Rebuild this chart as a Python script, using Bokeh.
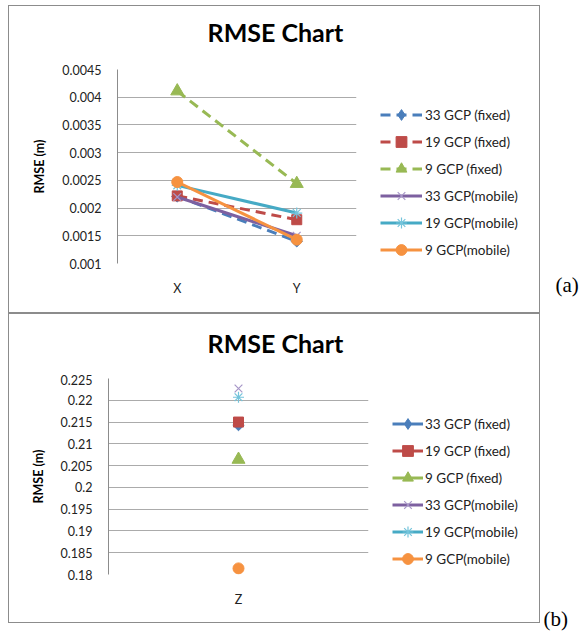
import math
from bokeh.plotting import figure
from bokeh.models import (FactorRange, Range1d, FixedTicker, PrintfTickFormatter,
                          Legend, LegendItem, Label, ColumnDataSource)
from bokeh.layouts import row, column
from bokeh.embed import file_html
from bokeh.resources import INLINE

# ---------------- data ----------------
cats_a = ["X", "Y"]
cats_b = ["Z"]
series_names = ["33 GCP (fixed)", "19 GCP (fixed)", "9 GCP (fixed)",
                "33 GCP(mobile)", "19 GCP(mobile)", "9 GCP(mobile)"]

rmse_a_33_fixed = [0.00221, 0.00140]
rmse_a_19_fixed = [0.00222, 0.00179]
rmse_a_9_fixed = [0.00411, 0.00244]
rmse_a_33_mobile = [0.00220, 0.00150]
rmse_a_19_mobile = [0.00241, 0.00191]
rmse_a_9_mobile = [0.00247, 0.00143]

rmse_b_33_fixed = [0.2143]
rmse_b_19_fixed = [0.2150]
rmse_b_9_fixed = [0.2064]
rmse_b_33_mobile = [0.2227]
rmse_b_19_mobile = [0.2207]
rmse_b_9_mobile = [0.1814]

yticks_a = [0.001, 0.0015, 0.002, 0.0025, 0.003, 0.0035, 0.004, 0.0045]
yticks_b = [0.18, 0.185, 0.19, 0.195, 0.2, 0.205, 0.21, 0.215, 0.22, 0.225]

title_text = "RMSE Chart"
ylabel_text = "RMSE (m)"

# ---------------- styles ----------------
FONT = "Lato"
LINE_COLORS = ["#4A7EBB", "#BE4B48", "#98B954", "#7D60A0", "#46AAC5", "#F69240"]
MARKERS = [
    dict(marker="square", size=8, angle=math.pi / 4, color="#4A7EBB"),
    dict(marker="square", size=10, angle=0.0, color="#BE4B48"),
    dict(marker="triangle", size=13, angle=0.0, color="#98B954"),
    dict(marker="x", size=11, angle=0.0, color="#A898C8"),
    dict(marker="asterisk", size=11, angle=0.0, color="#74C4DB"),
    dict(marker="circle", size=11, angle=0.0, color="#F69240"),
]
LEGEND_MARKERS = ["diamond", "square", "triangle", "x", "asterisk", "circle"]
GRID = "#ababab"
BORDER = {"border": "1px solid #8c8c8c"}


def bare_fig(W, H, **kw):
    opts = dict(min_border=0)
    opts.update(kw)
    f = figure(width=W, height=H, x_range=Range1d(0, 1), y_range=Range1d(0, 1),
               output_backend="svg", toolbar_location=None, title=None,
               x_axis_location=None, y_axis_location=None, **opts)
    f.outline_line_color = None
    f.xgrid.visible = False
    f.ygrid.visible = False
    return f


def text_fig(text, W, H, x, y, font, size, style="normal", align="left"):
    f = bare_fig(W, H)
    f.add_layout(Label(x=x, y=y, x_units="screen", y_units="screen", text=text,
                       text_align=align, text_baseline="middle",
                       text_font=font, text_font_size=size, text_font_style=style,
                       text_color="#000000"))
    return f


def chart_fig(cats, values, yticks, dashed, W, H, bl, br, bt, bb):
    p = figure(width=W, height=H, x_range=FactorRange(*cats),
               y_range=Range1d(yticks[0], yticks[-1]),
               output_backend="svg", toolbar_location=None, title=None,
               min_border_left=bl, min_border_right=br,
               min_border_top=bt, min_border_bottom=bb)
    p.outline_line_color = None

    ticker = FixedTicker(ticks=yticks)
    p.yaxis.ticker = ticker
    p.yaxis.formatter = PrintfTickFormatter(format="%g")
    p.yaxis.major_tick_out = 0
    p.yaxis.major_tick_in = 0
    p.yaxis.minor_tick_out = 0
    p.yaxis.minor_tick_in = 0
    p.yaxis.major_label_standoff = 16
    p.yaxis.axis_line_color = "#8c8c8c"
    p.yaxis.major_label_text_font = FONT
    p.yaxis.major_label_text_font_size = "12.5px"
    p.yaxis.major_label_text_color = "#222222"
    p.yaxis.axis_label = ylabel_text
    p.yaxis.axis_label_standoff = 12
    p.yaxis.axis_label_text_font = FONT
    p.yaxis.axis_label_text_font_style = "bold"
    p.yaxis.axis_label_text_font_size = "12.5px"
    p.yaxis.axis_label_text_color = "#000000"

    p.xaxis.major_tick_out = 0
    p.xaxis.major_tick_in = 0
    p.xaxis.axis_line_color = None
    p.xaxis.major_label_standoff = 17
    p.xaxis.major_label_text_font = FONT
    p.xaxis.major_label_text_font_size = "12.5px"
    p.xaxis.major_label_text_color = "#222222"

    p.xgrid.visible = False
    p.ygrid.ticker = ticker
    p.ygrid.grid_line_color = GRID
    p.ygrid.grid_line_width = 1

    for i, vals in enumerate(values):
        src = ColumnDataSource(dict(x=cats, y=vals))
        dash = "10 6" if (dashed and i < 3) else "solid"
        if len(cats) > 1:
            p.line("x", "y", source=src, line_color=LINE_COLORS[i],
                   line_width=3, line_dash=dash)
        m = MARKERS[i]
        if m["marker"] in ("x", "asterisk"):
            p.scatter("x", "y", source=src, marker=m["marker"], size=m["size"],
                      line_color=m["color"], line_width=1.2)
        else:
            p.scatter("x", "y", source=src, marker=m["marker"], size=m["size"],
                      angle=m["angle"], fill_color=m["color"],
                      line_color=m["color"], line_width=1)
    return p


def legend_fig(values, W, H, dashed, bt, bb, loc, glyph_w, standoff):
    # legend-only figure: the series are plotted here outside the visible range,
    # so only their legend glyphs show
    f = bare_fig(W, H, min_border_top=bt, min_border_bottom=bb)
    f.y_range = Range1d(-2, -1)
    items = []
    for i, (name, vals) in enumerate(zip(series_names, values)):
        src = ColumnDataSource(dict(x=list(range(len(vals))), y=vals))
        dash = "10 6" if (dashed and i < 3) else "solid"
        lr = f.line("x", "y", source=src, line_color=LINE_COLORS[i],
                    line_width=3, line_dash=dash)
        col = MARKERS[i]["color"]
        if LEGEND_MARKERS[i] in ("x", "asterisk"):
            sr = f.scatter("x", "y", source=src, marker=LEGEND_MARKERS[i],
                           line_color=col, line_width=1.2)
        else:
            sr = f.scatter("x", "y", source=src, marker=LEGEND_MARKERS[i],
                           fill_color=col, line_color=col, line_width=1)
        items.append(LegendItem(label=name, renderers=[lr, sr]))
    legend = Legend(items=items, location=loc, orientation="vertical",
                    glyph_width=glyph_w, glyph_height=27, label_height=20,
                    spacing=0, padding=0, margin=0, label_standoff=standoff,
                    border_line_color=None, background_fill_alpha=0,
                    label_text_font=FONT, label_text_font_size="13.5px",
                    label_text_color="#222222")
    f.add_layout(legend, "center")
    return f


values_a = [rmse_a_33_fixed, rmse_a_19_fixed, rmse_a_9_fixed,
            rmse_a_33_mobile, rmse_a_19_mobile, rmse_a_9_mobile]
values_b = [rmse_b_33_fixed, rmse_b_19_fixed, rmse_b_9_fixed,
            rmse_b_33_mobile, rmse_b_19_mobile, rmse_b_9_mobile]

# panel (a): content 530 x 306
t_a = text_fig(title_text, 530, 57, 266, 32, FONT, "25px", "bold", "center")
c_a = chart_fig(cats_a, values_a, yticks_a, True, 362, 249, 108, 15, 6, 49)
l_a = legend_fig(values_a, 168, 249, True, 6, 49, (9, 0), 42, 3)
panel_a = column(t_a, row(c_a, l_a), styles=BORDER)

# panel (b): content 530 x 308
t_b = text_fig(title_text, 530, 60, 266, 32, FONT, "25px", "bold", "center")
c_b = chart_fig(cats_b, values_b, yticks_b, False, 374, 248, 99, 15, 4, 48)
l_b = legend_fig(values_b, 156, 248, False, 4, 48, (9, 2), 31, 2)
panel_b = column(t_b, row(c_b, l_b), styles=BORDER)

tag_a = text_fig("(a)", 42, 308, 15, 29, "Liberation Serif", "21px")
tag_b = text_fig("(b)", 42, 318, 3, 13, "Liberation Serif", "21px")

layout = column(row(panel_a, tag_a), row(panel_b, tag_b), margin=(5, 0, 0, 8))

open("out.html", "w").write(file_html(layout, INLINE))
